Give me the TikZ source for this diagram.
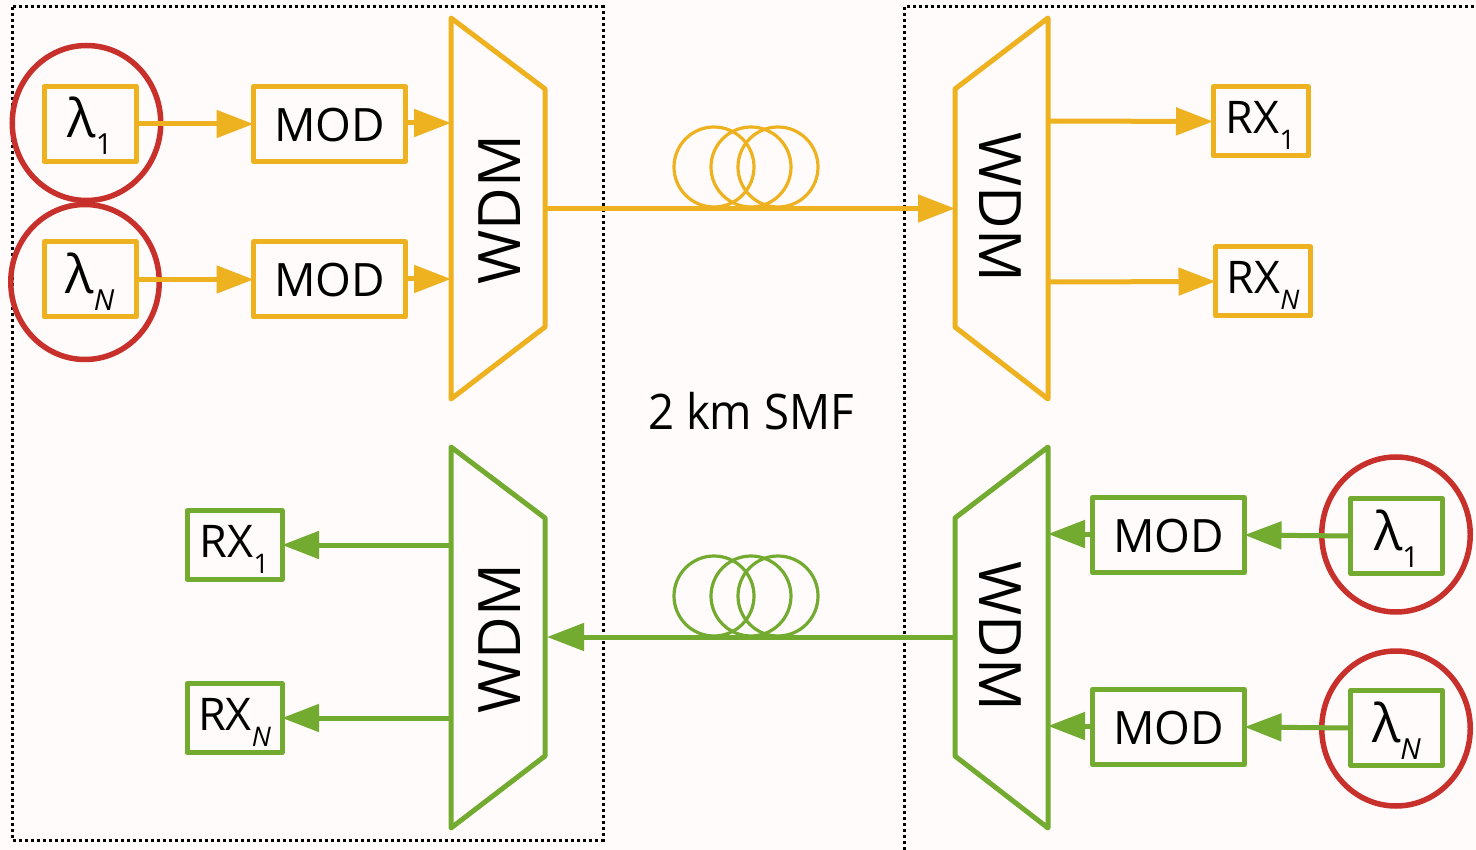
\documentclass[tikz,border=0pt]{standalone}
\usepackage{fontspec}
\setmainfont{Open Sans}
\usetikzlibrary{arrows.meta,shapes.geometric}
\definecolor{yel}{HTML}{EEB11F}
\definecolor{grn}{HTML}{73AB31}
\definecolor{rd}{HTML}{C8302B}
\definecolor{bgc}{HTML}{FFFBFA}
\newcommand{\sublam}[1]{{\fontsize{53}{53}\selectfont λ}\raisebox{-17pt}{\fontsize{29}{29}\selectfont #1}}
\newcommand{\subrx}[1]{{\fontsize{45}{45}\selectfont RX}\raisebox{-16pt}{\fontsize{27}{27}\selectfont #1}}
\tikzset{
  x=1pt,y=-1pt,
  ybox/.style={draw=yel,line width=5pt,line join=round,inner sep=0pt,outer sep=0pt,text=black},
  gbox/.style={draw=grn,line width=5pt,line join=round,inner sep=0pt,outer sep=0pt,text=black},
  modsize/.style={minimum width=152pt,minimum height=75pt,font=\fontsize{46}{46}\selectfont,text height=35pt,text depth=0pt},
  lamsize/.style={minimum width=92pt,minimum height=75pt,text height=28pt,text depth=0pt},
  rxsize/.style={minimum width=95pt,minimum height=69pt,text height=25pt,text depth=0pt},
  ring/.style={draw=rd,line width=5.5pt,ellipse,inner sep=0pt,outer sep=0pt,minimum width=148.5pt,minimum height=155pt},
  yline/.style={draw=yel,line width=5pt},
  gline/.style={draw=grn,line width=5pt},
  yarr/.style={yline,-{Triangle[length=37pt,width=27pt,fill=yel]}},
  garr/.style={gline,-{Triangle[length=37pt,width=27pt,fill=grn]}},
  coil/.style={draw=#1,line width=3.2pt,circle,inner sep=0pt,outer sep=0pt,minimum size=80pt},
  wdmshape/.style={line width=5pt,line join=round},
  wdmlabel/.style={font=\fontsize{58.5}{58.5}\selectfont,inner sep=0pt},
  dotbox/.style={draw=black,line width=3pt,dash pattern=on 3pt off 3pt},
}
\begin{document}
\begin{tikzpicture}
\useasboundingbox (0,0) rectangle (1476,850);
\fill[bgc] (0,0) rectangle (1476,850);
% dotted frames
\coordinate (fa) at (12,7); \coordinate (fb) at (603,840);
\coordinate (ga) at (904,850); \coordinate (gb) at (904,7); \coordinate (gc) at (1476,7);
\draw[dotbox] (fa) rectangle (fb);
\draw[dotbox] (ga) -- (gb) -- (gc);
% WDM shapes
\draw[yel,wdmshape] (451,18) -- (545,89) -- (545,327) -- (451,399) -- cycle;
\draw[yel,wdmshape] (1048,18) -- (955,89) -- (955,327) -- (1048,399) -- cycle;
\draw[grn,wdmshape] (451,447) -- (545,518) -- (545,756) -- (451,828) -- cycle;
\draw[grn,wdmshape] (1048,447) -- (955,518) -- (955,756) -- (1048,828) -- cycle;
\node[wdmlabel,rotate=90] (w1) at (499.5,209.5) {WDM};
\node[wdmlabel,rotate=-90] (w2) at (1000.5,207.5) {WDM};
\node[wdmlabel,rotate=90] (w3) at (499.5,638.5) {WDM};
\node[wdmlabel,rotate=-90] (w4) at (1000.5,636.5) {WDM};
% WDM ports
\coordinate (p1) at (451,123); \coordinate (p2) at (451,279);
\coordinate (p3) at (545,208.5); \coordinate (p4) at (955,208.5);
\coordinate (p5) at (1048,121); \coordinate (p6) at (1048,282);
\coordinate (p7) at (547,637); \coordinate (p8) at (955,637);
\coordinate (p9) at (451,545); \coordinate (p10) at (451,718);
\coordinate (p11) at (1048,534); \coordinate (p12) at (1048,726);
% coils
\node[coil=yel] (c1) at (714,167) {};
\node[coil=yel] (c2) at (751,167) {};
\node[coil=yel] (c3) at (778,167) {};
\node[coil=grn] (c4) at (714,596) {};
\node[coil=grn] (c5) at (751,596) {};
\node[coil=grn] (c6) at (778,596) {};
% boxes
\node[ybox,lamsize] (l1) at (90,124) {\sublam{1}};
\node[ybox,lamsize] (l2) at (90,279.5) {\sublam{\textit{N}}};
\node[ybox,modsize] (m1) at (329.5,124) {MOD};
\node[ybox,modsize] (m2) at (329.5,279.5) {MOD};
\node[ybox,rxsize] (r1) at (1260.5,121.5) {\subrx{1}};
\node[ybox,rxsize] (r2) at (1263,281.5) {\subrx{\textit{N}}};
\node[gbox,rxsize] (r3) at (234.5,545) {\subrx{1}};
\node[gbox,rxsize] (r4) at (234.5,718) {\subrx{\textit{N}}};
\node[gbox,modsize] (m3) at (1168.5,535) {MOD};
\node[gbox,modsize] (m4) at (1168.5,727) {MOD};
\node[gbox,lamsize] (l3) at (1396.5,536) {\sublam{1}};
\node[gbox,lamsize] (l4) at (1396.5,728) {\sublam{\textit{N}}};
% red rings
\node[ring] (o1) at (86.5,123) {};
\node[ring] (o2) at (85,282) {};
\node[ring] (o3) at (1396,534.5) {};
\node[ring] (o4) at (1396,728.5) {};
% connectors
\draw[yarr] (l1.east) -- (m1.west);
\draw[yarr] (l2.east) -- (m2.west);
\draw[yarr] (m1.east |- p1) -- (p1);
\draw[yarr] (m2.east |- p2) -- (p2);
\draw[yarr] (p3) -- (p4);
\draw[yarr] (p5) -- (r1.west);
\draw[yarr] (p6) -- (r2.west);
\draw[garr] (p8) -- (p7);
\draw[garr] (p9) -- (r3.east);
\draw[garr] (p10) -- (r4.east);
\draw[garr] (m3.west |- p11) -- (p11);
\draw[garr] (m4.west |- p12) -- (p12);
\draw[garr] (l3.west) -- (m3.east);
\draw[garr] (l4.west) -- (m4.east);
\node[font=\fontsize{49}{49}\selectfont,inner sep=0pt] (smf) at (751,411) {\scalebox{0.93}[1]{2 km SMF}};
\end{tikzpicture}
\end{document}
